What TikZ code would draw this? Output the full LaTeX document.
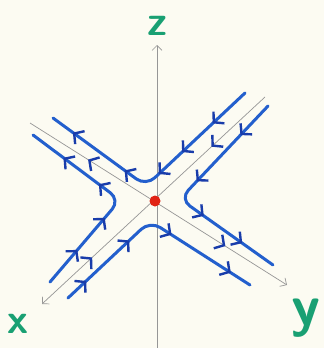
\documentclass[tikz,border=0pt]{standalone}
\usepackage{fontspec}
\usepackage{xcolor}
\definecolor{paper}{RGB}{252,251,242}
\definecolor{flowblue}{RGB}{35,95,205}
\definecolor{darkflow}{RGB}{25,60,170}
\definecolor{axisgray}{RGB}{150,150,150}
\definecolor{labelgreen}{RGB}{25,160,115}
\definecolor{dotred}{RGB}{225,35,20}
\usetikzlibrary{arrows.meta,decorations.markings,positioning}

\begin{document}
\begin{tikzpicture}[
        x=1pt, y=-1pt,
        font=\sffamily,
        % Estilos
        axis/.style={draw=axisgray, line width=0.7pt, -{Straight Barb[length=5pt, width=10pt]}},
        flow/.style={draw=flowblue, line width=3pt, line cap=round, rounded corners=12pt},
        tip at/.style={postaction={decorate, decoration={markings, mark=at position #1 with {\arrow[darkflow, line width=2.4pt]{Straight Barb[length=7pt, width=16pt]}}}}},
        tip back at/.style={postaction={decorate, decoration={markings, mark=at position #1 with {\arrowreversed[darkflow, line width=2.4pt]{Straight Barb[length=7pt, width=16pt]}}}}},
        axlabel/.style={text=labelgreen, inner sep=0pt},
        fixpoint/.style={circle, fill=dotred, inner sep=0pt, minimum size=11pt}
    ]

    % Fondo
    \fill[paper] (0,0) rectangle (324,348);
    \useasboundingbox (0,0) rectangle (324,348);

    % Extremos de los ejes
    \coordinate (origin) at (155,201);
    \coordinate (ztop) at (157,45);
    \coordinate (zbot) at (157,348);
    \coordinate (xback) at (265,97);
    \coordinate (xfront) at (42,304);
    \coordinate (yback) at (30,123);
    \coordinate (yfront) at (287,285);

    % Ejes
    \draw[axis] (zbot) -- (ztop);
    \draw[axis, tip at=0.24, tip back at=0.775] (xback) -- (xfront);
    \draw[axis, tip back at=0.226, tip at=0.76] (yback) -- (yfront);

    % Trayectorias
    \draw[flow, tip at=0.18, tip at=0.35, tip at=0.48, tip at=0.64, tip at=0.9]
        (245,93) -- (146,186) -- (53,118);
    \draw[flow, tip at=0.17, tip at=0.44, tip at=0.64, tip at=0.84]
        (268,106) -- (180,199) -- (273,265);
    \draw[flow, tip at=0.11, tip at=0.37, tip at=0.59, tip at=0.9]
        (68,298) -- (150,221) -- (250,285);
    \draw[flow, tip at=0.2, tip at=0.4, tip at=0.61, tip at=0.82]
        (50,282) -- (120,200) -- (33,135);

    % Punto fijo
    \node[fixpoint] (saddle) at (origin) {};

    % Rótulos
    \node[axlabel, font=\sffamily\bfseries\fontsize{42}{42}\selectfont] (zlabel) at (157,26) {z};
    \node[axlabel, font=\sffamily\bfseries\fontsize{42}{42}\selectfont] (xlabel) at (18,324) {x};
    \node[axlabel, font=\sffamily\bfseries\fontsize{58}{58}\selectfont] (ylabel) at (306,318) {y};

\end{tikzpicture}
\end{document}
